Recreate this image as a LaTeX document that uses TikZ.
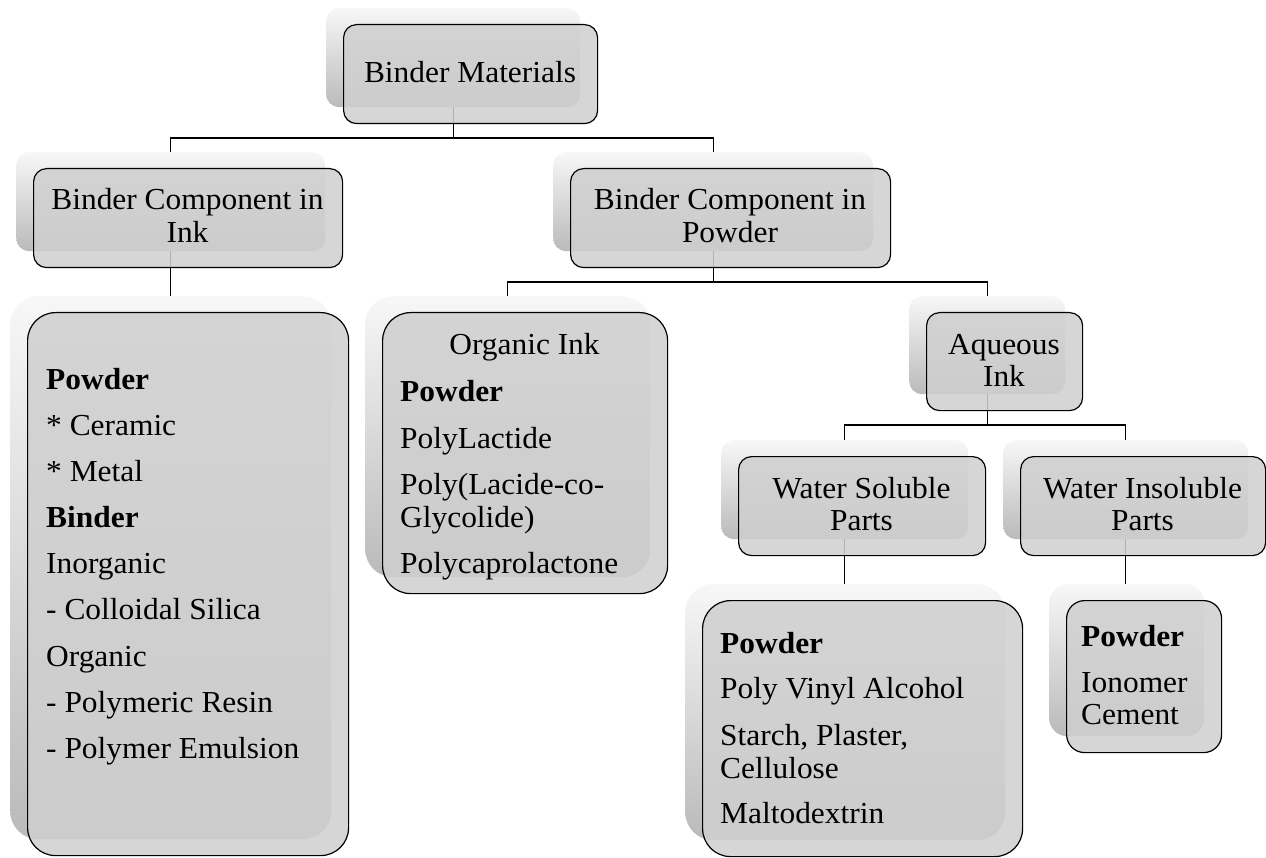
\documentclass[tikz,border=0pt]{standalone}
\usepackage{fontspec}
\setmainfont{Liberation Serif}[FakeStretch=1.03]
\usetikzlibrary{backgrounds}
\definecolor{boxgray}{HTML}{CFCFCF}
\tikzset{
  backbox/.style={rounded corners=#1, top color=black!3, bottom color=black!27, draw=none, inner sep=0pt, anchor=north west},
  frontbox/.style={rounded corners=#1, fill=boxgray, fill opacity=0.86, draw=black, line width=1.2pt, inner sep=0pt, anchor=north west},
  conn/.style={draw=black, line width=1.2pt},
  txt/.style={inner sep=0pt, font=\fontsize{30.5}{33}\selectfont, text=black},
}
\newcommand\pairbox[6]{%
  \node[backbox=#6, minimum width=#4pt, minimum height=#5pt] (#1b) at (#2-17,#3-16) {};
  \node[frontbox=#6, minimum width=#4pt, minimum height=#5pt] (#1) at (#2,#3) {};
}
\begin{document}
\begin{tikzpicture}[x=1pt,y=-1pt]
\useasboundingbox (0,0) rectangle (1266,858);
% boxes
\pairbox{bm}{343}{24}{254}{99}{13pt}
\pairbox{bci}{33}{168}{309}{99}{13pt}
\pairbox{bcp}{570}{168}{320}{99}{13pt}
\pairbox{lbig}{27}{312}{321}{543}{28pt}
\pairbox{org}{382}{312}{285}{281}{28pt}
\pairbox{aq}{926}{312}{156}{98}{13pt}
\pairbox{ws}{738}{456}{247}{99}{13pt}
\pairbox{wi}{1020}{456}{245}{99}{13pt}
\pairbox{wsp}{702}{600}{320}{256}{28pt}
\pairbox{ion}{1066}{600}{155}{152}{18pt}
% connectors
\coordinate (bus1) at (453,138);
\coordinate (bus2) at (713,282);
\coordinate (bus3) at (987,425);
\begin{pgfonlayer}{background}
\draw[conn] (bmb.south) -- (bmb.south |- bus1);
\draw[conn] (bcib.north) |- (bus1) -| (bcpb.north);
\draw[conn] (bcib.south) -- (bcib.south |- lbigb.north);
\draw[conn] (bcpb.south) -- (bcpb.south |- bus2);
\draw[conn] (orgb.north) |- (bus2) -| (aqb.north);
\draw[conn] (aqb.south) -- (aqb.south |- bus3);
\draw[conn] (wsb.north) |- (bus3) -| (wib.north);
\draw[conn] (wsb.south) -- (wsb.south |- wspb.north);
\draw[conn] (wib.south) -- (wib.south |- ionb.north);
\end{pgfonlayer}
% centred headings
\node[txt, anchor=base] (t1) at (470,83) {Binder Materials};
\node[txt, anchor=base] (t2) at (187.5,210) {Binder Component in};
\node[txt, anchor=base] (t3) at (187.5,243) {Ink};
\node[txt, anchor=base] (t4) at (730,210) {Binder Component in};
\node[txt, anchor=base] (t5) at (730,243) {Powder};
\node[txt, anchor=base] (t6) at (1004,355) {Aqueous};
\node[txt, anchor=base] (t7) at (1004,387) {Ink};
\node[txt, anchor=base] (t8) at (861.5,498) {Water Soluble};
\node[txt, anchor=base] (t9) at (861.5,530) {Parts};
\node[txt, anchor=base] (t10) at (1142.5,498) {Water Insoluble};
\node[txt, anchor=base] (t11) at (1142.5,530) {Parts};
\node[txt, anchor=base] (t12) at (524.5,355) {Organic Ink};
% lists
\foreach \yy/\lbl [count=\i] in {389/{\textbf{Powder}}, 435/{* Ceramic}, 481/{* Metal}, 527/{\textbf{Binder}}, 573/{Inorganic}, 619/{- Colloidal Silica}, 666/{Organic}, 712/{- Polymeric Resin}, 758/{- Polymer Emulsion}}
  \node[txt, anchor=base west] (la\i) at (46,\yy) {\lbl};
\foreach \yy/\lbl [count=\i] in {402/{\textbf{Powder}}, 448/{PolyLactide}, 494/{Poly(Lacide-co-}, 527/{Glycolide)}, 573/{Polycaprolactone}}
  \node[txt, anchor=base west] (lo\i) at (400,\yy) {\lbl};
\foreach \yy/\lbl [count=\i] in {653/{\textbf{Powder}}, 698/{Poly Vinyl Alcohol}, 745/{Starch, Plaster,}, 778/{Cellulose}, 823/{Maltodextrin}}
  \node[txt, anchor=base west] (lw\i) at (720,\yy) {\lbl};
\foreach \yy/\lbl [count=\i] in {646/{\textbf{Powder}}, 692/{Ionomer}, 724/{Cement}}
  \node[txt, anchor=base west] (li\i) at (1081,\yy) {\lbl};
\end{tikzpicture}
\end{document}
